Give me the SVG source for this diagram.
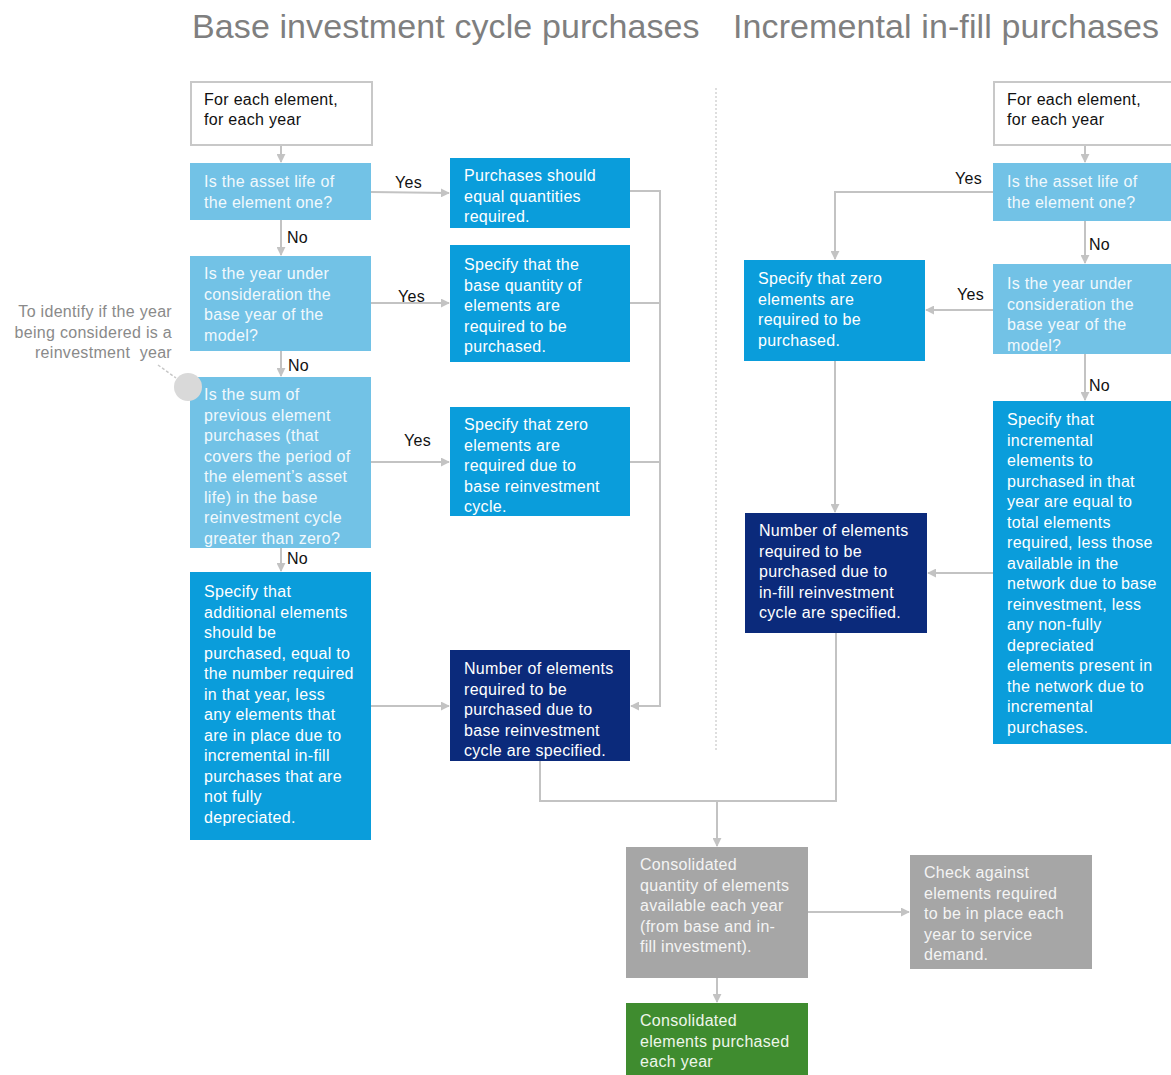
<svg xmlns="http://www.w3.org/2000/svg" width="1171" height="1075" viewBox="0 0 1171 1075">
<style>
text{font-family:"Liberation Sans",Arial,sans-serif;font-size:16px;letter-spacing:0.3px}
.title{font-size:34px;fill:#7f7f7f;letter-spacing:0.1px}
.start{fill:#ffffff;stroke:#c8c8c8;stroke-width:2}
.q{fill:#72c2e6}
.a{fill:#0a9ddb}
.n{fill:#0b2a7b}
.g{fill:#a6a6a6}
.gr{fill:#3f8c2f}
.tb{fill:#111111}
.tq{fill:#f1f9fd}
.tw{fill:#ffffff}
.tg{fill:#f4f4f4}
.tgr{fill:#eef6ea}
.lbl{fill:#111111}
.ann{fill:#8a8a8a;text-anchor:end;white-space:pre}
.c{fill:none;stroke:#c3c3c3;stroke-width:2}
</style>
<defs>
<marker id="ah" viewBox="0 0 10 10" refX="9" refY="5" markerWidth="9" markerHeight="9" markerUnits="userSpaceOnUse" orient="auto">
<path d="M0,0 L10,5 L0,10 z" fill="#c3c3c3"/>
</marker>
</defs>
<rect width="1171" height="1075" fill="#ffffff"/>
<text class="title" x="192" y="38">Base investment cycle purchases</text>
<text class="title" x="733" y="38">Incremental in-fill purchases</text>
<line x1="716" y1="88" x2="716" y2="752" stroke="#bdbdbd" stroke-width="1" stroke-dasharray="2,2"/>
<g id="annotation">
<text class="ann" x="172" y="317">To identify if the year</text>
<text class="ann" x="172" y="338">being considered is a</text>
<text class="ann" x="172" y="358">reinvestment  year</text>
<line x1="158" y1="365" x2="176" y2="378" stroke="#c8c8c8" stroke-width="1.5" stroke-dasharray="3,2"/>
</g>
<g id="connectors">
<line class="c" x1="281" y1="146" x2="281" y2="162" marker-end="url(#ah)"/>
<line class="c" x1="281" y1="220" x2="281" y2="255" marker-end="url(#ah)"/>
<line class="c" x1="281" y1="351" x2="281" y2="376" marker-end="url(#ah)"/>
<line class="c" x1="281" y1="548" x2="281" y2="571" marker-end="url(#ah)"/>
<line class="c" x1="371" y1="192" x2="449" y2="193" marker-end="url(#ah)"/>
<line class="c" x1="371" y1="303" x2="449" y2="303" marker-end="url(#ah)"/>
<line class="c" x1="371" y1="462" x2="449" y2="462" marker-end="url(#ah)"/>
<line class="c" x1="371" y1="706" x2="449" y2="706" marker-end="url(#ah)"/>
<polyline class="c" points="630,191 660,191 660,706 631,706" marker-end="url(#ah)"/>
<line class="c" x1="630" y1="303" x2="660" y2="303"/>
<line class="c" x1="630" y1="462" x2="660" y2="462"/>
<polyline class="c" points="540,761 540,801 836,801 836,633"/>
<line class="c" x1="717" y1="801" x2="717" y2="846" marker-end="url(#ah)"/>
<line class="c" x1="1085" y1="146" x2="1085" y2="162" marker-end="url(#ah)"/>
<line class="c" x1="1085" y1="221" x2="1085" y2="263" marker-end="url(#ah)"/>
<line class="c" x1="1085" y1="354" x2="1085" y2="400" marker-end="url(#ah)"/>
<polyline class="c" points="993,192 835,192 835,259" marker-end="url(#ah)"/>
<line class="c" x1="993" y1="310" x2="926" y2="310" marker-end="url(#ah)"/>
<line class="c" x1="835" y1="361" x2="835" y2="512" marker-end="url(#ah)"/>
<line class="c" x1="993" y1="573" x2="928" y2="573" marker-end="url(#ah)"/>
<line class="c" x1="808" y1="912" x2="909" y2="912" marker-end="url(#ah)"/>
<line class="c" x1="717" y1="978" x2="717" y2="1002" marker-end="url(#ah)"/>
<text class="lbl" x="395" y="188">Yes</text>
<text class="lbl" x="398" y="302">Yes</text>
<text class="lbl" x="404" y="446">Yes</text>
<text class="lbl" x="287" y="243">No</text>
<text class="lbl" x="288" y="371">No</text>
<text class="lbl" x="287" y="564">No</text>
<text class="lbl" x="955" y="184">Yes</text>
<text class="lbl" x="957" y="300">Yes</text>
<text class="lbl" x="1089" y="250">No</text>
<text class="lbl" x="1089" y="391">No</text>
</g>
<g id="start-left">
<rect class="start" x="191" y="82" width="181" height="63"/>
<text class="tb" x="204" y="105">For each element,</text>
<text class="tb" x="204" y="125">for each year</text>
</g>
<g id="q1-left">
<rect class="q" x="190" y="163" width="181" height="57"/>
<text class="tq" x="204" y="187">Is the asset life  of</text>
<text class="tq" x="204" y="208">the element  one?</text>
</g>
<g id="q2-left">
<rect class="q" x="190" y="256" width="181" height="95"/>
<text class="tq" x="204" y="279">Is the year under</text>
<text class="tq" x="204" y="299.5">consideration the</text>
<text class="tq" x="204" y="320">base year of the</text>
<text class="tq" x="204" y="340.5">model?</text>
</g>
<g id="q3-left">
<rect class="q" x="190" y="377" width="181" height="171"/>
<circle cx="188" cy="387" r="14" fill="#d9d9d9"/>
<text class="tq" x="204" y="400">Is the sum of</text>
<text class="tq" x="204" y="420.5">previous  element</text>
<text class="tq" x="204" y="441">purchases (that</text>
<text class="tq" x="204" y="461.5">covers  the period of</text>
<text class="tq" x="204" y="482">the element’s asset</text>
<text class="tq" x="204" y="502.5">life) in the base</text>
<text class="tq" x="204" y="523">reinvestment  cycle</text>
<text class="tq" x="204" y="543.5">greater  than zero?</text>
</g>
<g id="a-left-big">
<rect class="a" x="190" y="572" width="181" height="268"/>
<text class="tw" x="204" y="597">Specify that</text>
<text class="tw" x="204" y="617.5">additional  elements</text>
<text class="tw" x="204" y="638">should  be</text>
<text class="tw" x="204" y="658.5">purchased,  equal to</text>
<text class="tw" x="204" y="679">the number  required</text>
<text class="tw" x="204" y="699.5">in that year, less</text>
<text class="tw" x="204" y="720">any elements that</text>
<text class="tw" x="204" y="740.5">are  in place due to</text>
<text class="tw" x="204" y="761">incremental  in-fill</text>
<text class="tw" x="204" y="781.5">purchases  that are</text>
<text class="tw" x="204" y="802">not fully</text>
<text class="tw" x="204" y="822.5">depreciated.</text>
</g>
<g id="a1-left">
<rect class="a" x="450" y="158" width="180" height="70"/>
<text class="tw" x="464" y="181">Purchases should</text>
<text class="tw" x="464" y="201.5">equal  quantities</text>
<text class="tw" x="464" y="222">required.</text>
</g>
<g id="a2-left">
<rect class="a" x="450" y="245" width="180" height="117"/>
<text class="tw" x="464" y="270">Specify that the</text>
<text class="tw" x="464" y="290.5">base quantity of</text>
<text class="tw" x="464" y="311">elements are</text>
<text class="tw" x="464" y="331.5">required  to be</text>
<text class="tw" x="464" y="352">purchased.</text>
</g>
<g id="a3-left">
<rect class="a" x="450" y="407" width="180" height="109"/>
<text class="tw" x="464" y="430">Specify that zero</text>
<text class="tw" x="464" y="450.5">elements  are</text>
<text class="tw" x="464" y="471">required  due to</text>
<text class="tw" x="464" y="491.5">base reinvestment</text>
<text class="tw" x="464" y="512">cycle.</text>
</g>
<g id="n-left">
<rect class="n" x="450" y="650" width="180" height="111"/>
<text class="tw" x="464" y="674">Number  of elements</text>
<text class="tw" x="464" y="694.5">required  to be</text>
<text class="tw" x="464" y="715">purchased  due to</text>
<text class="tw" x="464" y="735.5">base reinvestment</text>
<text class="tw" x="464" y="756">cycle are  specified.</text>
</g>
<g id="start-right">
<rect class="start" x="994" y="82" width="190" height="63"/>
<text class="tb" x="1007" y="105">For each element,</text>
<text class="tb" x="1007" y="125">for each year</text>
</g>
<g id="q1-right">
<rect class="q" x="993" y="163" width="190" height="58"/>
<text class="tq" x="1007" y="187">Is the asset life  of</text>
<text class="tq" x="1007" y="208">the element  one?</text>
</g>
<g id="q2-right">
<rect class="q" x="993" y="264" width="190" height="90"/>
<text class="tq" x="1007" y="289">Is the year under</text>
<text class="tq" x="1007" y="309.5">consideration the</text>
<text class="tq" x="1007" y="330">base year of the</text>
<text class="tq" x="1007" y="350.5">model?</text>
</g>
<g id="zero-right">
<rect class="a" x="744" y="260" width="181" height="101"/>
<text class="tw" x="758" y="284">Specify that zero</text>
<text class="tw" x="758" y="304.5">elements  are</text>
<text class="tw" x="758" y="325">required  to be</text>
<text class="tw" x="758" y="345.5">purchased.</text>
</g>
<g id="a-right-big">
<rect class="a" x="993" y="401" width="190" height="343"/>
<text class="tw" x="1007" y="425">Specify that</text>
<text class="tw" x="1007" y="445.5">incremental</text>
<text class="tw" x="1007" y="466">elements to</text>
<text class="tw" x="1007" y="486.5">purchased  in that</text>
<text class="tw" x="1007" y="507">year are  equal to</text>
<text class="tw" x="1007" y="527.5">total elements</text>
<text class="tw" x="1007" y="548">required,  less those</text>
<text class="tw" x="1007" y="568.5">available  in the</text>
<text class="tw" x="1007" y="589">network  due to base</text>
<text class="tw" x="1007" y="609.5">reinvestment,  less</text>
<text class="tw" x="1007" y="630">any non-fully</text>
<text class="tw" x="1007" y="650.5">depreciated</text>
<text class="tw" x="1007" y="671">elements  present in</text>
<text class="tw" x="1007" y="691.5">the network  due to</text>
<text class="tw" x="1007" y="712">incremental</text>
<text class="tw" x="1007" y="732.5">purchases.</text>
</g>
<g id="n-right">
<rect class="n" x="745" y="513" width="182" height="120"/>
<text class="tw" x="759" y="536">Number  of elements</text>
<text class="tw" x="759" y="556.5">required  to be</text>
<text class="tw" x="759" y="577">purchased  due to</text>
<text class="tw" x="759" y="597.5">in-fill  reinvestment</text>
<text class="tw" x="759" y="618">cycle are  specified.</text>
</g>
<g id="consolidated-quantity">
<rect class="g" x="626" y="847" width="182" height="131"/>
<text class="tg" x="640" y="870">Consolidated</text>
<text class="tg" x="640" y="890.5">quantity of elements</text>
<text class="tg" x="640" y="911">available  each year</text>
<text class="tg" x="640" y="931.5">(from  base and in-</text>
<text class="tg" x="640" y="952">fill investment).</text>
</g>
<g id="check-against">
<rect class="g" x="910" y="855" width="182" height="114"/>
<text class="tg" x="924" y="878">Check against</text>
<text class="tg" x="924" y="898.5">elements required</text>
<text class="tg" x="924" y="919">to be in place each</text>
<text class="tg" x="924" y="939.5">year to service</text>
<text class="tg" x="924" y="960">demand.</text>
</g>
<g id="consolidated-purchased">
<rect class="gr" x="626" y="1003" width="182" height="80"/>
<text class="tgr" x="640" y="1026">Consolidated</text>
<text class="tgr" x="640" y="1046.5">elements purchased</text>
<text class="tgr" x="640" y="1067">each year</text>
</g>
</svg>
